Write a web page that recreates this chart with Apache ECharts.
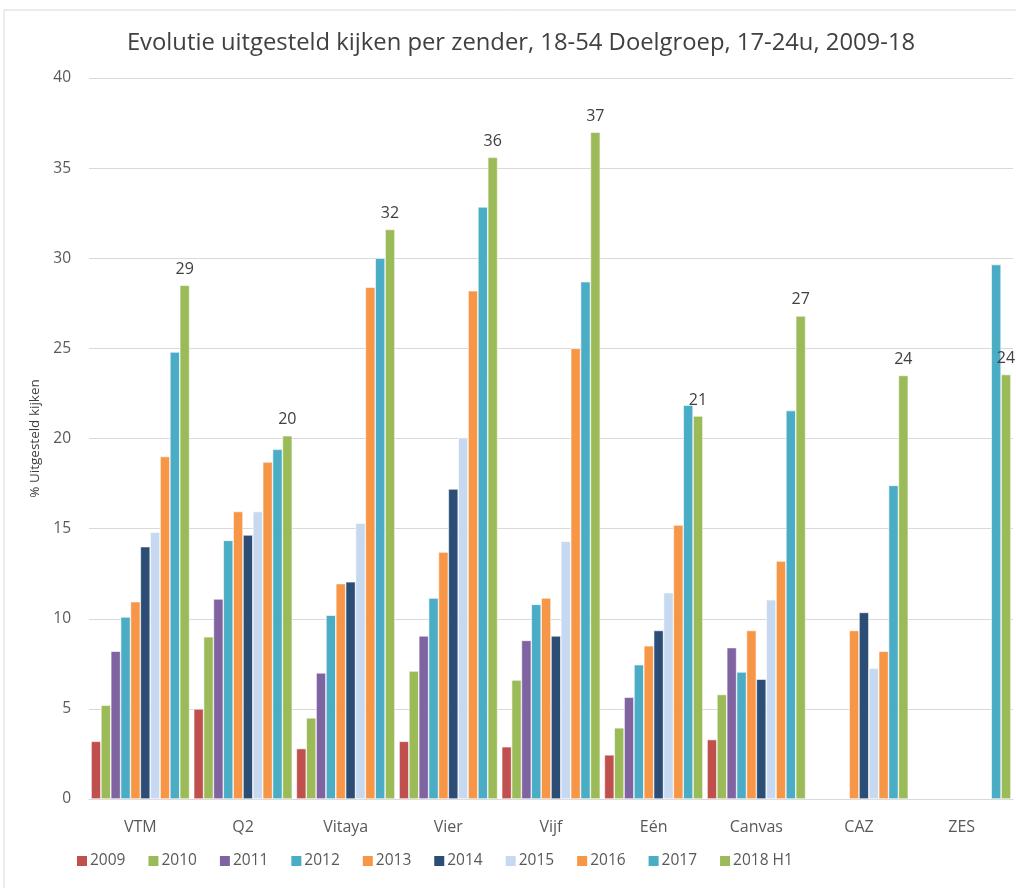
<!DOCTYPE html>
<html><head><meta charset="utf-8">
<script src="https://cdn.jsdelivr.net/npm/echarts@6/dist/echarts.min.js"></script>
<style>html,body{margin:0;padding:0;background:#fff}#c{width:1016px;height:888px}</style>
</head><body><div id="c"></div>
<script>
const categories = ['VTM','Q2','Vitaya','Vier','Vijf','Eén','Canvas','CAZ','ZES'];
const seriesNames = ['2009','2010','2011','2012','2013','2014','2015','2016','2017','2018 H1'];
const colors = ['#C0504D','#9BBB59','#8064A2','#4BACC6','#F79646','#2C4D75','#C6D9F1','#F79646','#4BACC6','#9BBB59'];
const v2009 = [3.2, 5.0, 2.8, 3.2, 2.9, 2.45, 3.3, null, null];
const v2010 = [5.2, 9.0, 4.5, 7.1, 6.6, 3.95, 5.8, null, null];
const v2011 = [8.2, 11.1, 7.0, 9.05, 8.8, 5.65, 8.4, null, null];
const v2012 = [10.1, 14.35, 10.2, 11.15, 10.8, 7.45, 7.05, null, null];
const v2013 = [10.95, 15.95, 11.95, 13.7, 11.15, 8.5, 9.35, 9.35, null];
const v2014 = [14.0, 14.65, 12.05, 17.2, 9.05, 9.35, 6.65, 10.35, null];
const v2015 = [14.8, 15.95, 15.3, 20.05, 14.3, 11.45, 11.05, 7.25, null];
const v2016 = [19.0, 18.7, 28.4, 28.2, 25.0, 15.2, 13.2, 8.2, null];
const v2017 = [24.8, 19.4, 30.0, 32.85, 28.7, 21.85, 21.55, 17.4, 29.65];
const v2018 = [28.5, 20.15, 31.6, 35.6, 37.0, 21.25, 26.8, 23.5, 23.55];
const allValues = [v2009,v2010,v2011,v2012,v2013,v2014,v2015,v2016,v2017,v2018];
const yTicks = {min:0, max:40, interval:5};

const font = 'Open Sans, Noto Sans, sans-serif';
const chart = echarts.init(document.getElementById('c'));
chart.setOption({
  animation:false,
  backgroundColor:'#fff',
  title:{text:'Evolutie uitgesteld kijken per zender, 18-54 Doelgroep, 17-24u, 2009-18',
    left:516, textAlign:'center', top:26, textStyle:{fontFamily:font, fontSize:23.8, fontWeight:'normal', color:'#404040'}},
  graphic:[{type:'rect', shape:{x:4,y:10,width:1030,height:900}, style:{fill:'none', stroke:'#d9d9d9', lineWidth:1}, silent:true}],
  grid:{left:89, right:3, top:78, bottom:89},
  legend:{bottom:14, left:70, itemWidth:12, itemHeight:12, itemGap:21, icon:'rect',
    textStyle:{fontFamily:font, fontSize:15.5, color:'#595959', padding:[0,0,0,-3]}, data:seriesNames},
  xAxis:{type:'category', data:categories,
    axisLine:{lineStyle:{color:'#d9d9d9', width:1}}, axisTick:{show:false},
    axisLabel:{fontFamily:font, fontSize:16, color:'#595959', margin:20}},
  yAxis:{type:'value', min:yTicks.min, max:yTicks.max, interval:yTicks.interval,
    name:'% Uitgesteld kijken', nameLocation:'middle', nameGap:42, nameRotate:90,
    nameTextStyle:{fontFamily:font, fontSize:13.5, color:'#404040'},
    axisLine:{show:false}, axisTick:{show:false},
    axisLabel:{fontFamily:font, fontSize:15.5, color:'#595959', margin:18},
    splitLine:{lineStyle:{color:'#d9d9d9', width:1}}},
  series: seriesNames.map((n,i)=>({
    name:n, type:'bar', data:allValues[i], barGap:'0%', barCategoryGap:'4%',
    itemStyle:{color:colors[i], borderColor:'#ffffff', borderWidth:0.6},
    label: i===9 ? {show:true, position:'top', distance:8, fontFamily:font, fontSize:16, color:'#404040',
      formatter:p=>Math.round(p.value)} : {show:false}
  }))
});
</script></body></html>
